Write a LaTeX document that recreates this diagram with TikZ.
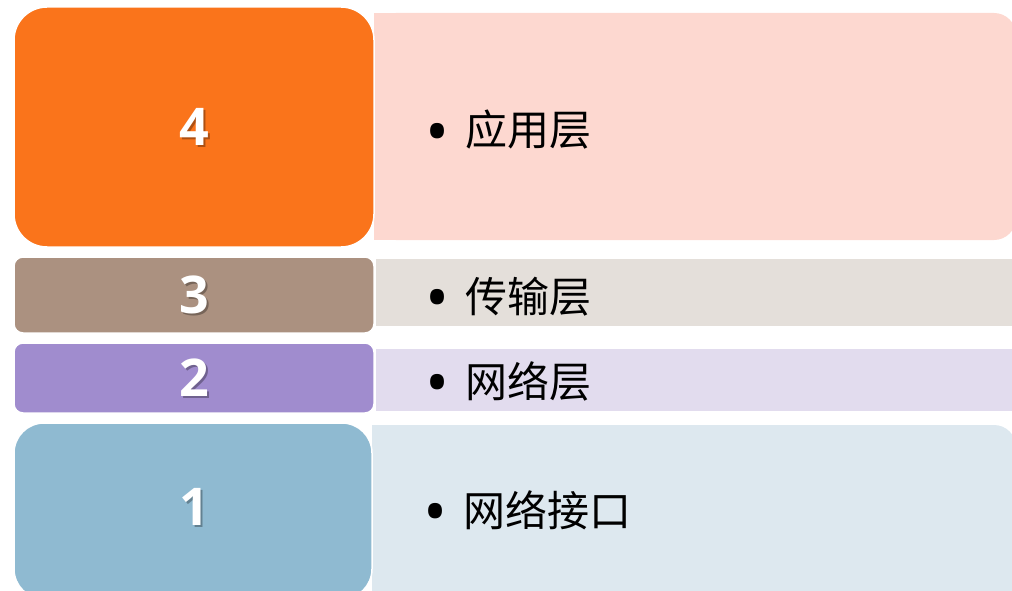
\documentclass[tikz,border=0pt]{standalone}
\usepackage{fontspec}
\setmainfont{Open Sans}
\newfontfamily\cjk{Noto Sans CJK SC}
\definecolor{appfill}{HTML}{FA741B}
\definecolor{apppanel}{HTML}{FDD8D0}
\definecolor{tranfill}{HTML}{AB9180}
\definecolor{tranpanel}{HTML}{E4DFDA}
\definecolor{netfill}{HTML}{A08CCE}
\definecolor{netpanel}{HTML}{E2DCEE}
\definecolor{linkfill}{HTML}{8FBAD1}
\definecolor{linkpanel}{HTML}{DDE8EF}

\begin{document}
\begin{tikzpicture}[x=1pt, y=-1pt,
    layerbox/.style={draw=white, line width=1.5pt, inner sep=0pt, minimum width=360pt},
    layernum/.style={text=white, inner sep=0pt, font=\fontsize{52}{60}\selectfont\bfseries},
    numshadow/.style={text=black, opacity=0.3, inner sep=0pt, font=\fontsize{52}{60}\selectfont\bfseries},
    layertext/.style={anchor=base west, inner sep=0pt, font=\cjk\fontsize{42}{50}\selectfont},
    layerdot/.style={anchor=base, inner sep=0pt, font=\fontsize{64}{70}\selectfont}]
  \useasboundingbox (0,0) rectangle (1012,591);
  % panels behind the boxes
  \fill[apppanel, rounded corners=22pt] (374,13) rectangle (1016,240);
  \fill[apppanel] (374,13) rectangle (700,240);
  \fill[tranpanel] (376,259) rectangle (1030,326);
  \fill[netpanel] (376,349) rectangle (1030,411);
  \fill[linkpanel, rounded corners=22pt] (372,425) rectangle (1016,605);
  \fill[linkpanel] (372,425) rectangle (700,605);
  % numbered boxes
  \node[layerbox, fill=appfill, rounded corners=33pt, minimum height=240pt] (box4) at (194,127) {};
  \node[layerbox, fill=tranfill, rounded corners=9pt, minimum height=76pt] (box3) at (194,295) {};
  \node[layerbox, fill=netfill, rounded corners=9pt, minimum height=70pt] (box2) at (194,378) {};
  \node[layerbox, fill=linkfill, rounded corners=30pt, minimum width=358pt, minimum height=176pt] (box1) at (193,511) {};
  \foreach \n/\y in {4/127, 3/295, 2/378, 1/507} {
    \node[numshadow] (shadow\n) at (196,\y+2) {\n};
    \node[layernum] (num\n) at (194,\y) {\n};
  }
  % layer names
  \node[layerdot] (dot4) at (438,154) {•};
  \node[layertext] (name4) at (465,146) {应用层};
  \node[layerdot] (dot3) at (438,320) {•};
  \node[layertext] (name3) at (465,312) {传输层};
  \node[layerdot] (dot2) at (438,405) {•};
  \node[layertext] (name2) at (465,397) {网络层};
  \node[layerdot] (dot1) at (436,534) {•};
  \node[layertext] (name1) at (463,526) {网络接口};
\end{tikzpicture}
\end{document}
